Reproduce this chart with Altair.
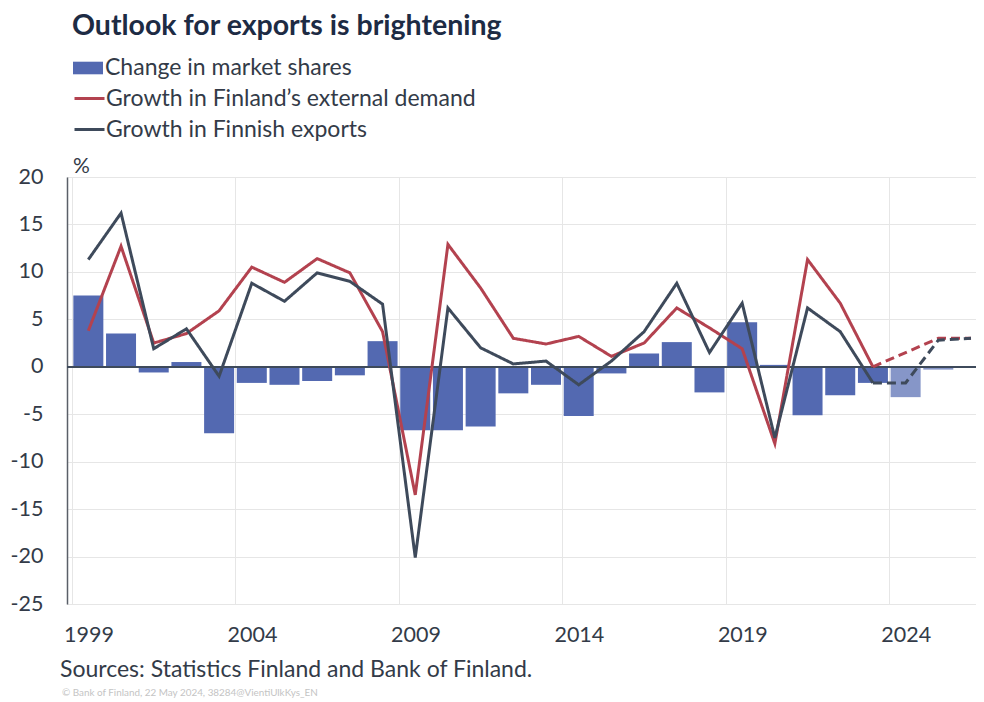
import altair as alt
import pandas as pd

# ---------------- data ----------------
BAR_YEARS = list(range(1999, 2026))
MARKET_SHARES = [7.5, 3.5, -0.6, 0.5, -7.0, -1.7, -1.9, -1.5, -0.9, 2.7,
                 -6.7, -6.7, -6.3, -2.8, -1.9, -5.2, -0.7, 1.4, 2.6, -2.7,
                 4.7, 0.2, -5.1, -3.0, -1.7, -3.2, -0.3]
LINE_YEARS = list(range(1999, 2027))
EXTERNAL_DEMAND = [3.8, 12.7, 2.5, 3.5, 5.9, 10.5, 8.9, 11.4, 9.9, 3.7,
                   -13.5, 12.9, 8.3, 3.0, 2.4, 3.2, 1.1, 2.5, 6.2, 4.1,
                   1.9, -8.1, 11.3, 6.7, 0.0, 1.5, 3.0, 3.0]
EXPORTS = [11.3, 16.2, 1.9, 4.0, -1.0, 8.8, 6.9, 9.9, 9.0, 6.6,
           -20.1, 6.2, 2.0, 0.3, 0.6, -1.9, 0.6, 3.7, 8.8, 1.5,
           6.7, -7.5, 6.2, 3.7, -1.7, -1.7, 2.8, 3.0]
LAST_ACTUAL = 2023

SERIES_BAR = "Change in market shares"
SERIES_DEMAND = "Growth in Finland\u2019s external demand"
SERIES_EXPORTS = "Growth in Finnish exports"

TITLE = "Outlook for exports is brightening"
UNIT = "%"
SOURCE = "Sources: Statistics Finland and Bank of Finland."
COPYRIGHT = "\u00a9 Bank of Finland, 22 May 2024, 38284@VientiUlkKys_EN"

X_GRID = [1998.5, 2003.5, 2008.5, 2013.5, 2018.5, 2023.5]
Y_TICKS = [-25, -20, -15, -10, -5, 0, 5, 10, 15, 20]

# ---------------- styles ----------------
BLUE = "#5369b1"
RED = "#b3424f"
DARK = "#3e4a5b"
TEXT = "#333b48"
TITLE_COL = "#1d2b44"
GRID = "#e6e6e6"
FONT = "Lato"

bar_df = pd.DataFrame({"year": BAR_YEARS, "value": MARKET_SHARES, "series": SERIES_BAR})

rows = []
for name, vals in [(SERIES_DEMAND, EXTERNAL_DEMAND), (SERIES_EXPORTS, EXPORTS)]:
    for yr, v in zip(LINE_YEARS, vals):
        if yr <= LAST_ACTUAL:
            rows.append({"year": yr, "value": v, "series": name, "part": "actual"})
        if yr >= LAST_ACTUAL:
            rows.append({"year": yr, "value": v, "series": name, "part": "forecast"})
line_df = pd.DataFrame(rows)

x_scale = alt.Scale(domain=[1998.5, 2026], nice=False, zero=False)
y_scale = alt.Scale(domain=[-25, 20], nice=False)

x_axis = alt.Axis(values=X_GRID, title=None, grid=True, gridColor=GRID, gridWidth=1,
                  domain=False, ticks=False, labelExpr="format(datum.value + 0.5, 'd')",
                  labelOffset=16.5, labelFlush=False, labelPadding=20,
                  labelFont=FONT, labelFontSize=21.5, labelColor=TEXT)
y_axis = alt.Axis(values=Y_TICKS, title=None, grid=True, gridColor=GRID, gridWidth=1,
                  domain=True, domainColor="#5a5f68", domainWidth=1.5, ticks=False,
                  labelExpr="datum.value < 0 ? '-' + abs(datum.value) : '' + datum.value",
                  labelPadding=24, labelFont=FONT, labelFontSize=21.5, labelColor=TEXT)

bars = alt.Chart(bar_df).mark_bar(size=30).encode(
    x=alt.X("year:Q", scale=x_scale, axis=x_axis),
    y=alt.Y("value:Q", scale=y_scale, axis=y_axis),
    fill=alt.Fill("series:N", scale=alt.Scale(domain=[SERIES_BAR], range=[BLUE]),
                  legend=alt.Legend(title=None, orient="none", legendX=6, legendY=-124,
                                    symbolType="M-1,-0.42H1V0.42H-1Z", symbolSize=900,
                                    symbolStrokeWidth=0, labelFont=FONT, labelFontSize=23,
                                    labelColor=TEXT, labelLimit=600, labelOffset=2, padding=0)),
    opacity=alt.condition(f"datum.year > {LAST_ACTUAL}", alt.value(0.7), alt.value(1.0)),
)

zero = alt.Chart(bar_df).mark_rule(color=DARK, strokeWidth=1.5).encode(y=alt.datum(0))

lines = alt.Chart(line_df).mark_line(strokeWidth=3, strokeCap="butt", strokeJoin="miter").encode(
    x=alt.X("year:Q", scale=x_scale),
    y=alt.Y("value:Q", scale=y_scale),
    stroke=alt.Stroke("series:N",
                      scale=alt.Scale(domain=[SERIES_DEMAND, SERIES_EXPORTS], range=[RED, DARK]),
                      legend=alt.Legend(title=None, orient="none", legendX=6, legendY=-95,
                                        symbolType="stroke", symbolSize=900, symbolStrokeWidth=3,
                                        labelFont=FONT, labelFontSize=23, labelColor=TEXT,
                                        labelLimit=600, labelOffset=0, rowPadding=2, padding=0)),
    strokeDash=alt.StrokeDash("part:N",
                              scale=alt.Scale(domain=["actual", "forecast"], range=[[1, 0], [9, 5]]),
                              legend=None),
    detail="part:N",
)


def label(text, x, y, size, color, weight="normal", baseline="alphabetic"):
    return alt.Chart(pd.DataFrame({"t": [text]})).mark_text(
        align="left", baseline=baseline, font=FONT, fontSize=size, color=color, fontWeight=weight
    ).encode(x=alt.value(x), y=alt.value(y), text="t:N")


title = label(TITLE, 5, -142, 28.5, TITLE_COL, weight="bold")
unit = label(UNIT, 6, -4, 21, TEXT)
source = label(SOURCE, -7, 500, 23, TEXT)
copyright_ = label(COPYRIGHT, -5, 519, 9.9, "#c4c4c4")

chart = alt.layer(bars, zero, lines, title, unit, source, copyright_).properties(
    width=909, height=427,
    autosize=alt.AutoSizeParams(type="none"),
    padding={"left": 59, "top": 169, "right": 0, "bottom": 96},
).configure_view(stroke=None).configure(background="white")

chart.save("out.html", embed_options={"renderer": "svg", "actions": False})
